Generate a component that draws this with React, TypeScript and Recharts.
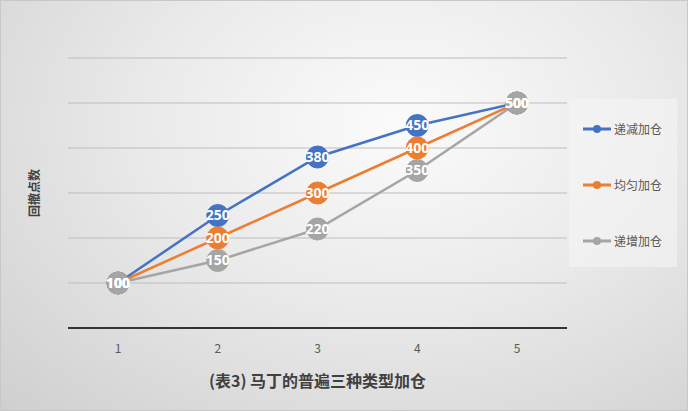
import { LineChart, Line, XAxis, YAxis, CartesianGrid, LabelList, Label } from 'recharts';

const categories = ['1', '2', '3', '4', '5'];
const decreasing = [100, 250, 380, 450, 500];
const even = [100, 200, 300, 400, 500];
const increasing = [100, 150, 220, 350, 500];
const yTicks = [0, 100, 200, 300, 400, 500, 600];

const seriesList = [
  { key: 'decreasing', name: '递减加仓', color: '#4472C4' },
  { key: 'even', name: '均匀加仓', color: '#ED7D31' },
  { key: 'increasing', name: '递增加仓', color: '#A5A5A5' },
];

const chartData = categories.map((c, i) => ({
  cat: c,
  decreasing: decreasing[i],
  even: even[i],
  increasing: increasing[i],
}));

const font = '"Noto Sans CJK SC", "Noto Sans", sans-serif';

function LegendBox() {
  return (
    <div style={{ position: 'absolute', left: 568, top: 98, width: 108, height: 168, background: 'rgba(245,245,245,0.6)', fontFamily: font, fontSize: 12, color: '#595959' }}>
      {seriesList.map((s, i) => (
        <div key={s.key} style={{ position: 'absolute', left: 14, top: 21 + i * 56, display: 'flex', alignItems: 'center' }}>
          <svg width={28} height={16} style={{ marginRight: 3 }}>
            <line x1={0} y1={8} x2={28} y2={8} stroke={s.color} strokeWidth={3} />
            <circle cx={14} cy={8} r={4} fill={s.color} />
          </svg>
          <span>{s.name}</span>
        </div>
      ))}
    </div>
  );
}

export default function App() {
  return (
    <div style={{ position: 'absolute', left: 0, top: 0, width: 688, height: 411, boxSizing: 'border-box', border: '1px solid #c8c8c8', background: 'radial-gradient(ellipse at 58% 30%, #fbfbfb 0%, #eaeaea 45%, #cfcfcf 100%)' }}>
      <LineChart width={686} height={409} data={chartData} margin={{ top: 57, right: 120, left: 0, bottom: 22 }}>
        <CartesianGrid vertical={false} stroke="#bdbdbd" strokeWidth={1} />
        <XAxis dataKey="cat" padding={{ left: 50, right: 50 }} axisLine={{ stroke: '#333', strokeWidth: 2 }} tickLine={false} tickSize={0} tickMargin={16} height={60} tick={{ fontSize: 12, fill: '#595959', fontFamily: font }}>
          <Label value="(表3) 马丁的普遍三种类型加仓" position="insideBottom" offset={1} style={{ fontSize: 16, fontWeight: 'bold', fill: '#404040', fontFamily: font }} />
        </XAxis>
        <YAxis domain={[0, 600]} ticks={yTicks} tick={() => <g />} axisLine={false} tickLine={false} width={67}>
          <Label value="回撤点数" angle={-90} position="center" style={{ fontSize: 12, fontWeight: 'bold', fill: '#404040', fontFamily: font }} />
        </YAxis>
        {seriesList.map(s => (
          <Line key={s.key} type="linear" dataKey={s.key} name={s.name} stroke={s.color} strokeWidth={2.5}
            dot={{ r: 11, fill: s.color, stroke: s.color, strokeWidth: 1 }} activeDot={false} isAnimationActive={false}>
            <LabelList dataKey={s.key} position="center" style={{ fill: '#fff', fontSize: 14, fontWeight: 'bold', fontFamily: '"Open Sans", "Noto Sans", sans-serif' }} />
          </Line>
        ))}
      </LineChart>
      <LegendBox />
    </div>
  );
}
